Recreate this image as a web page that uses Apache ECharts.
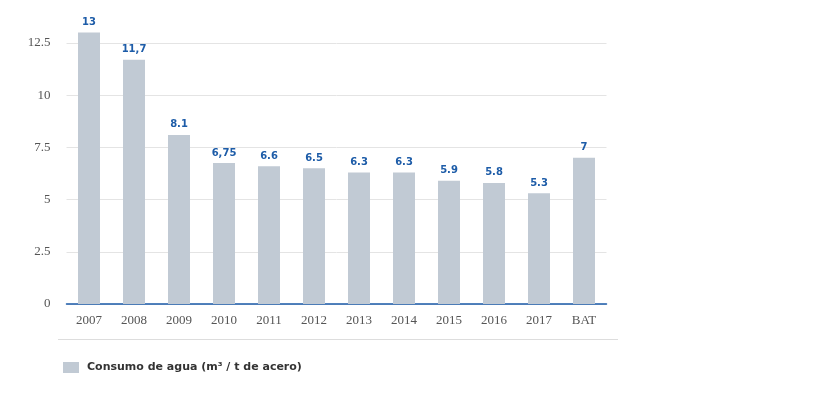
<!DOCTYPE html>
<html>
<head>
<meta charset="utf-8">
<script src="https://cdn.jsdelivr.net/npm/echarts@6/dist/echarts.min.js"></script>
<style>
  html, body { margin: 0; padding: 0; background: #fff; }
  #chart { width: 826px; height: 397px; }
</style>
</head>
<body>
<div id="chart"></div>
<script>
const years = ['2007', '2008', '2009', '2010', '2011', '2012', '2013', '2014', '2015', '2016', '2017', 'BAT'];
const consumo = [13, 11.7, 8.1, 6.75, 6.6, 6.5, 6.3, 6.3, 5.9, 5.8, 5.3, 7];
const etiquetas = ['13', '11,7', '8.1', '6,75', '6.6', '6.5', '6.3', '6.3', '5.9', '5.8', '5.3', '7'];
const yTicks = ['0', '2.5', '5', '7.5', '10', '12.5'];

let myChart = echarts.init(document.getElementById('chart'));
myChart.setOption({
  animation: false,
  grid: {
    left: 66.5,
    right: 219.5,
    top: 0,
    bottom: 93
  },
  legend: {
    data: ['Consumo de agua (m³ / t de acero)'],
    left: 58,
    top: 357,
    itemWidth: 16,
    itemHeight: 11,
    itemGap: 10,
    icon: 'rect',
    textStyle: {
      fontFamily: 'DejaVu Sans',
      fontSize: 11,
      fontWeight: 'bold',
      color: '#333',
      padding: [0, 0, 0, 3]
    }
  },
  graphic: [{
    type: 'line',
    shape: { x1: 58, y1: 339.5, x2: 618, y2: 339.5 },
    style: { stroke: '#dddddd', lineWidth: 1 }
  }],
  xAxis: {
    type: 'category',
    data: years,
    axisLine: { lineStyle: { color: '#1a5aa8', width: 1.5 } },
    axisTick: { show: false },
    axisLabel: {
      fontFamily: 'Liberation Serif',
      fontSize: 13,
      color: '#555',
      margin: 10
    }
  },
  yAxis: {
    type: 'value',
    min: 0,
    max: 14.56,
    interval: 2.5,
    axisLine: { show: false },
    axisTick: { show: false },
    axisLabel: {
      fontFamily: 'Liberation Serif',
      fontSize: 13,
      color: '#555',
      margin: 16,
      showMaxLabel: false,
      formatter: function (v) { return yTicks.includes(String(v)) ? String(v) : ''; }
    },
    splitLine: { showMaxLine: false, lineStyle: { color: '#e4e4e4', width: 1 } }
  },
  series: [{
    name: 'Consumo de agua (m³ / t de acero)',
    type: 'bar',
    data: consumo,
    barWidth: 22,
    itemStyle: { color: '#c1cad4' },
    label: {
      show: true,
      position: 'top',
      distance: 5,
      fontFamily: 'DejaVu Sans',
      fontSize: 10,
      fontWeight: 'bold',
      color: '#1d5ca8',
      formatter: function (p) { return etiquetas[p.dataIndex]; }
    }
  }]
});
</script>
</body>
</html>
